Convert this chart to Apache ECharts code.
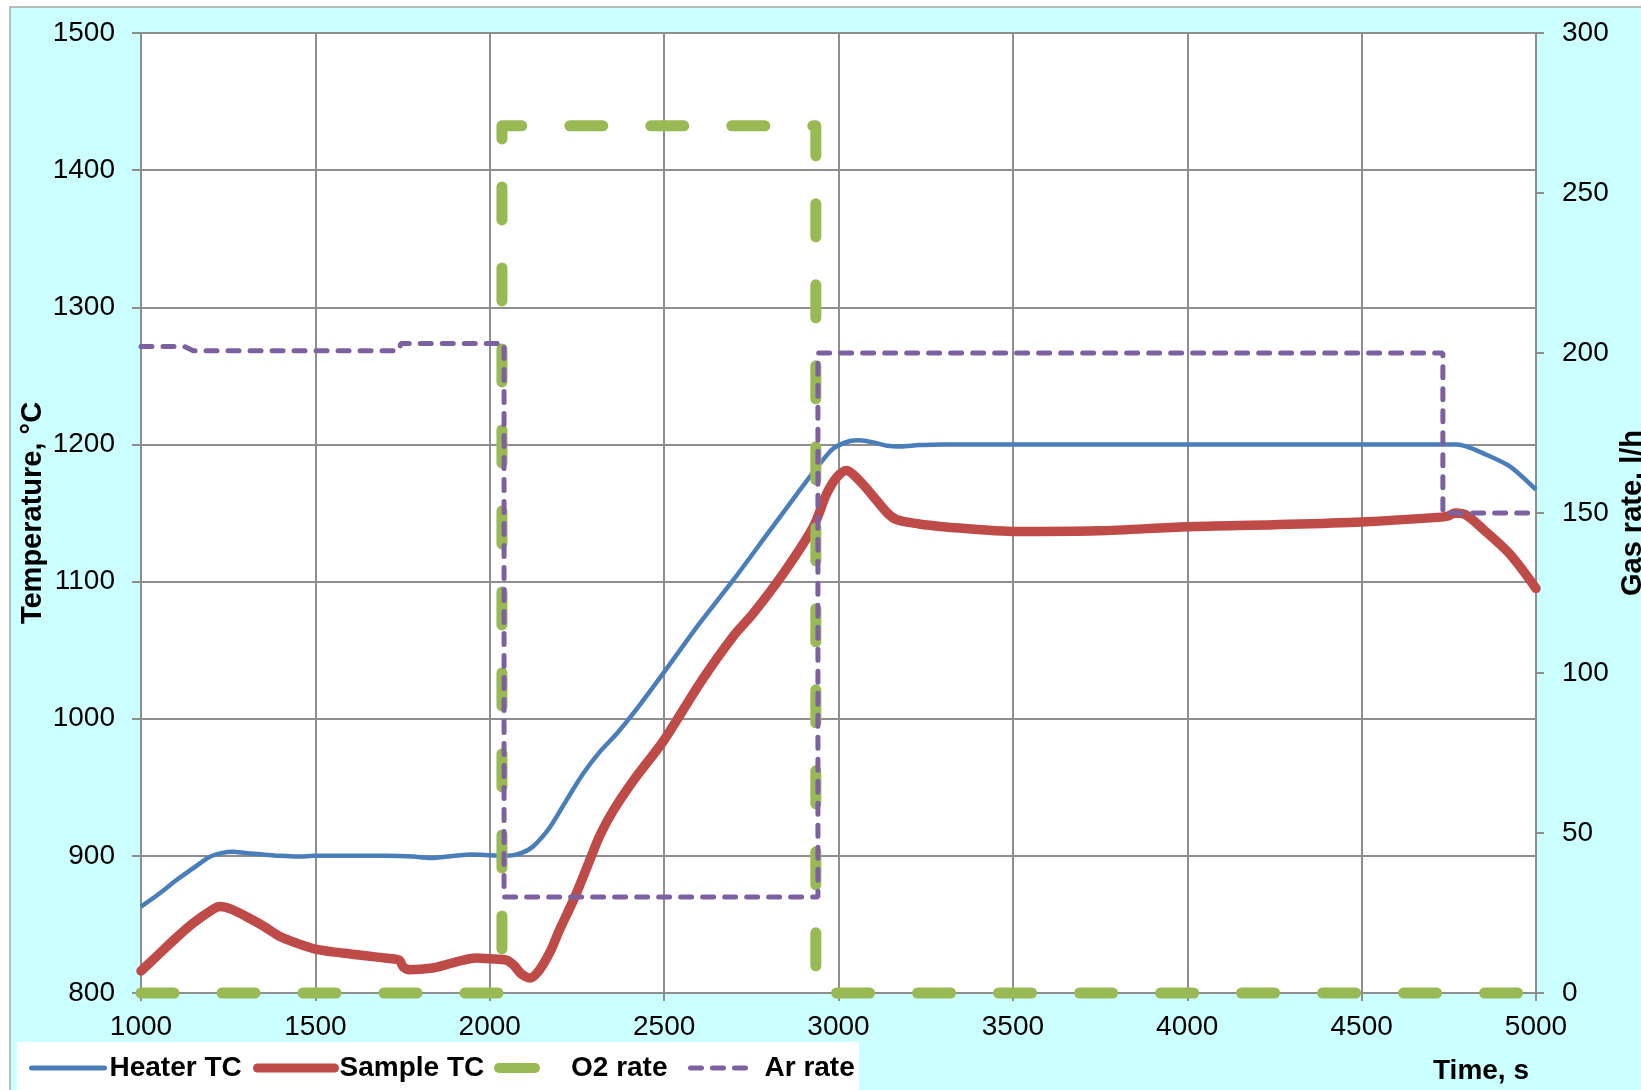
<!DOCTYPE html>
<html><head><meta charset="utf-8">
<script src="https://cdn.jsdelivr.net/npm/echarts@6/dist/echarts.min.js"></script>
<style>html,body{margin:0;padding:0;background:#fff}#c{width:1641px;height:1090px}</style>
</head><body><div id="c"></div>
<script>
// time (s), temperature (°C)
const heaterTC = [
[1000,863],[1050,872],[1100,882],[1150,891],[1195,899],[1230,902],[1264,903],[1300,902],[1350,901],[1400,900],[1450,899.5],[1500,900],[1600,900],[1700,900],[1780,899.5],[1830,898.5],[1880,899.5],[1950,901],[2000,900.5],[2050,900],[2090,902],[2125,907],[2173,921],[2221,941],[2268,960],[2316,976],[2364,989],[2412,1004],[2500,1034],[2603,1070],[2698,1101],[2794,1134],[2890,1167],[2947,1186],[2985,1197],[3033,1202.5],[3060,1203],[3100,1201.5],[3140,1199],[3179,1198.5],[3230,1199.5],[3300,1200],[3500,1200],[4000,1200],[4500,1200],[4773,1200],[4800,1198.5],[4849,1193.5],[4925,1184],[5000,1167]
];
const sampleTC = [
[1000,816],[1050,828],[1100,840],[1150,851],[1200,860],[1226,863],[1260,861],[1300,856],[1350,849],[1400,841],[1450,836],[1500,832],[1550,830],[1600,828.5],[1650,827],[1700,825.5],[1740,824],[1752,819],[1770,817],[1830,818],[1880,821],[1924,824],[1960,825.5],[2000,825],[2048,824],[2070,820],[2090,814],[2115,811],[2140,816],[2173,830],[2200,846],[2244,870],[2287,897],[2316,915],[2354,933],[2412,955],[2500,984.5],[2603,1026],[2698,1060],[2756,1077],[2842,1106],[2928,1140],[2966,1164],[2995,1176],[3023,1181],[3062,1173],[3100,1162],[3140,1150],[3168,1145],[3231,1142],[3300,1140],[3400,1138],[3500,1136.5],[3744,1137],[4000,1140],[4250,1141.5],[4500,1143.5],[4729,1147],[4750,1148],[4768,1150],[4800,1148.5],[4849,1138],[4925,1120],[5000,1095]
];
// time (s), gas rate (l/h)
const o2Rate = [[1000,0],[2035,0],[2035,271],[2935,271],[2935,0],[5000,0]];
const arRate = [[1000,202],[1125,202],[1150,200.7],[1740,200.7],[1745,203],[2041,203],[2041,30],[2941,30],[2941,200],[4733,200],[4733,150],[5000,150]];
const seriesNames = ['Heater TC','Sample TC','O2 rate','Ar rate'];
const xTicks = {min:1000, max:5000, interval:500};
const yLeftTicks = {min:800, max:1500, interval:100};
const yRightTicks = {min:0, max:300, interval:50};

const FONT = '"Liberation Sans", Arial, sans-serif';
const GRID = '#8e8e8e';
const C = {heater:'#4A7EBB', sample:'#BE4B48', o2:'#98B954', ar:'#7D60A0'};
const legText = {fontFamily:FONT, fontWeight:'bold', fontSize:28, color:'#000'};
const plain = v => String(v);
const axisCommon = {
  axisLine:{show:true, lineStyle:{color:GRID, width:2}},
  axisTick:{show:true, length:8, lineStyle:{color:GRID, width:2}},
  axisLabel:{fontFamily:FONT, fontSize:28, color:'#000', formatter:plain}
};
const noDot = {color:'rgba(0,0,0,0)', borderWidth:0, opacity:0};
const pillIcon = 'path://M5,0 L41,0 A5,5 0 0 1 41,10 L5,10 A5,5 0 0 1 5,0 Z';

const chart = echarts.init(document.getElementById('c'), null, {renderer:'canvas'});
chart.setOption({
  animation:false,
  backgroundColor:'#ffffff',
  graphic:[
    {type:'rect', z:-100, silent:true, shape:{x:10,y:7,width:1700,height:1200}, style:{fill:'#ccffff', stroke:'#a6a6a6', lineWidth:1.5}},
    {type:'rect', z:-90, silent:true, shape:{x:17,y:1042,width:842,height:60}, style:{fill:'#ffffff'}},
    {type:'text', x:1481, y:1071, silent:true, style:{text:'Time, s', fill:'#000', font:'bold 28px '+FONT, align:'center', verticalAlign:'middle', textAlign:'center', textVerticalAlign:'middle'}}
  ],
  grid:{left:141, right:105, top:33, bottom:97, show:true, backgroundColor:'#ffffff', borderWidth:0, containLabel:false, outerBoundsMode:'none'},
  legend:[
    {data:[seriesNames[0]], left:29, top:1054, padding:0, itemWidth:73, itemHeight:14, itemStyle:noDot, lineStyle:{width:5, cap:'round'}, textStyle:legText},
    {data:[seriesNames[1]], left:253, top:1054, padding:0, itemWidth:77, itemHeight:14, itemStyle:noDot, lineStyle:{width:9, cap:'round'}, textStyle:legText},
    {data:[seriesNames[2]], left:494, top:1054, padding:0, itemWidth:46, itemHeight:10, icon:pillIcon, itemStyle:{color:C.o2, borderWidth:0}, textStyle:Object.assign({padding:[0,0,0,26]}, legText)},
    {data:[seriesNames[3]], left:688, top:1054, padding:0, itemWidth:58, itemHeight:14, itemStyle:noDot, lineStyle:{width:5, type:[11,11], cap:'round'}, textStyle:Object.assign({padding:[0,0,0,11]}, legText)}
  ],
  xAxis:Object.assign({}, axisCommon, {
    type:'value', min:xTicks.min, max:xTicks.max, interval:xTicks.interval,
    axisLabel:Object.assign({}, axisCommon.axisLabel, {margin:20}),
    splitLine:{show:true, lineStyle:{color:GRID, width:2}}
  }),
  yAxis:[
    Object.assign({}, axisCommon, {
      type:'value', min:yLeftTicks.min, max:yLeftTicks.max, interval:yLeftTicks.interval, position:'left',
      axisTick:{show:true, length:9, lineStyle:{color:GRID, width:2}},
      axisLabel:Object.assign({}, axisCommon.axisLabel, {margin:26}),
      splitLine:{show:true, lineStyle:{color:GRID, width:2}},
      name:'Temperature, °C', nameLocation:'middle', nameGap:94, nameRotate:90, nameMoveOverlap:false,
      nameTextStyle:{fontFamily:FONT, fontWeight:'bold', fontSize:29, color:'#000'}
    }),
    Object.assign({}, axisCommon, {
      type:'value', min:yRightTicks.min, max:yRightTicks.max, interval:yRightTicks.interval, position:'right',
      axisLabel:Object.assign({}, axisCommon.axisLabel, {margin:26}),
      splitLine:{show:false},
      name:'Gas rate, l/h', nameLocation:'middle', nameGap:82, nameRotate:90, nameMoveOverlap:false,
      nameTextStyle:{fontFamily:FONT, fontWeight:'bold', fontSize:29, color:'#000'}
    })
  ],
  series:[
    {name:seriesNames[0], type:'line', yAxisIndex:0, data:heaterTC, symbol:'none', smooth:0.25, z:2,
      itemStyle:{color:C.heater}, lineStyle:{color:C.heater, width:4.5}},
    {name:seriesNames[1], type:'line', yAxisIndex:0, data:sampleTC, symbol:'none', smooth:0.3, z:3,
      itemStyle:{color:C.sample}, lineStyle:{color:C.sample, width:9.5, cap:'round', join:'round'}},
    {name:seriesNames[2], type:'line', yAxisIndex:1, data:o2Rate, symbol:'none', clip:false, z:4,
      itemStyle:{color:C.o2}, lineStyle:{color:C.o2, width:11, type:[33,48], cap:'round', join:'round'}},
    {name:seriesNames[3], type:'line', yAxisIndex:1, data:arRate, symbol:'none', clip:false, z:5,
      itemStyle:{color:C.ar}, lineStyle:{color:C.ar, width:5, type:[11,11], cap:'round'}}
  ]
});
</script>
</body></html>
